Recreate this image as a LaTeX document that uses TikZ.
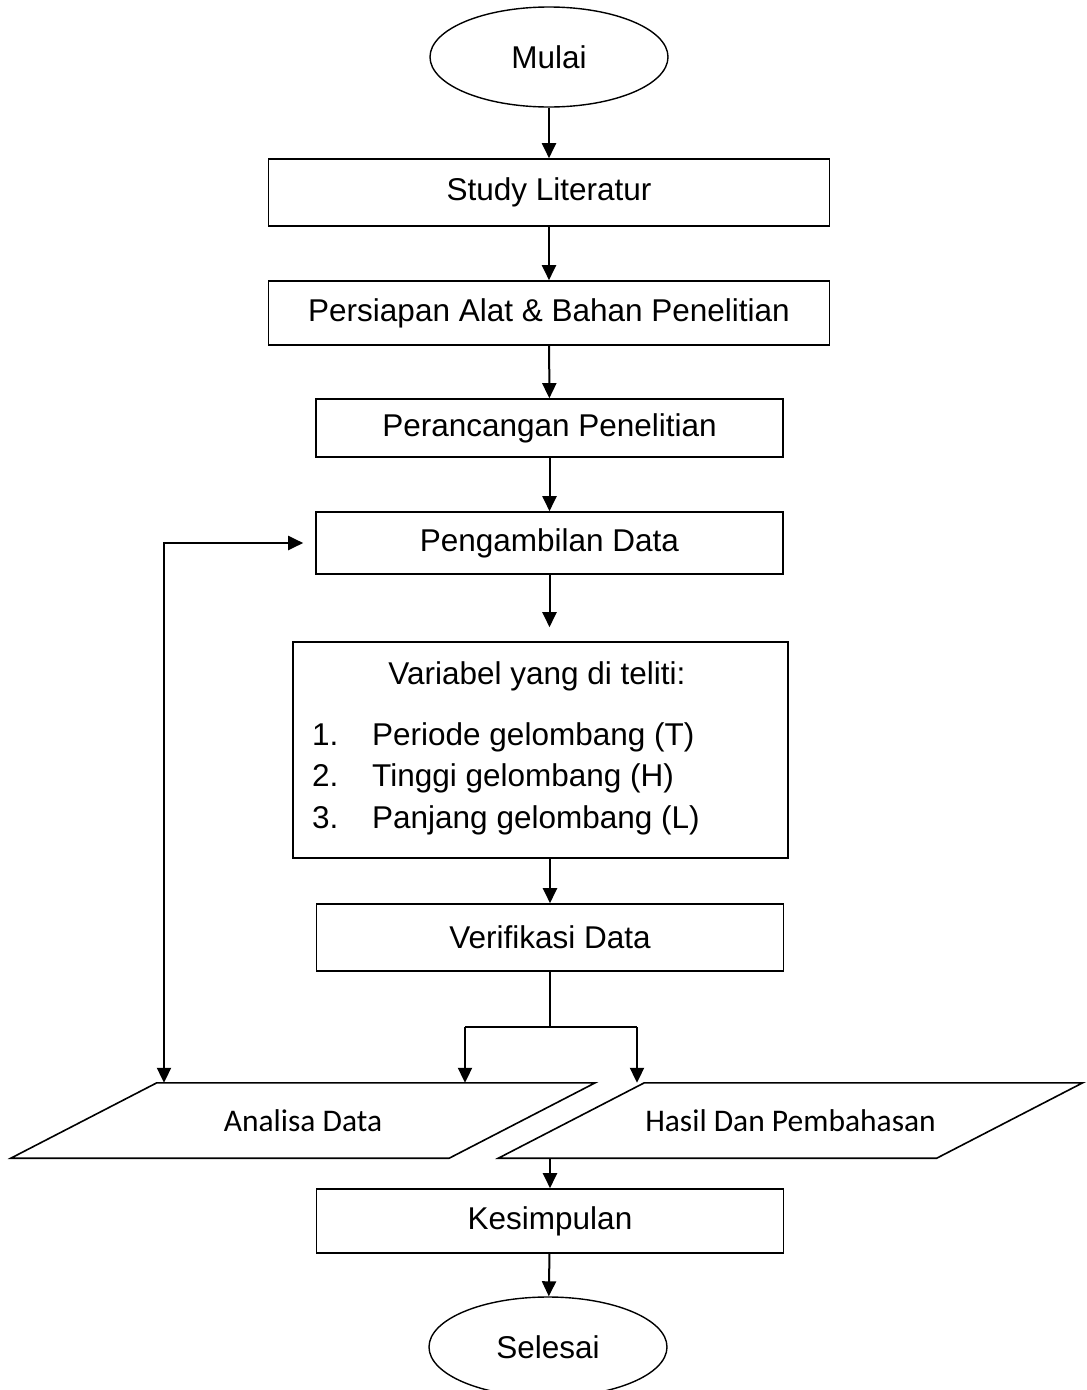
\documentclass[tikz,border=0pt]{standalone}
\usepackage{fontspec}
\setmainfont{Liberation Sans}
\newfontfamily\calibrifont{Carlito}
\usetikzlibrary{shapes.geometric,arrows.meta,positioning}

\tikzset{panah/.tip={Triangle[width=14pt,length=15pt]}}

\begin{document}
\begin{tikzpicture}[x=1pt, y=-1pt, font=\fontsize{31.5}{38}\selectfont,
  box/.style={draw, line width=1.6pt, minimum width=467pt, inner sep=0pt},
  widebox/.style={box, minimum width=561pt},
  term/.style={draw, ellipse, line width=1.4pt, minimum width=238pt, minimum height=100pt, inner sep=0pt},
  io/.style={minimum width=438pt, minimum height=75pt, inner sep=0pt, font=\calibrifont\fontsize{31.5}{38}\selectfont},
  arr/.style={-panah, line width=2pt},
  conn/.style={line width=2pt}]
\useasboundingbox (0,0) rectangle (1087,1390);

% langkah utama
\node[term] (mulai) at (549,57) {Mulai};
\node[widebox, minimum height=67pt] (studi) at (549,192.5) {Study Literatur};
\node[widebox, minimum height=64pt] (persiapan) at (549,313) {Persiapan Alat \& Bahan Penelitian};
\node[box, minimum height=58pt] (perancangan) at (549.5,428) {Perancangan Penelitian};
\node[box, minimum height=62pt] (pengambilan) at (549.5,543) {Pengambilan Data};

% variabel
\node[box, minimum width=495pt, minimum height=216pt] (variabel) at (540.5,750) {};
\node (judul) at (537,676) {Variabel yang di teliti:};
\node[anchor=west, inner sep=0pt] (var1) at (312,737) {\makebox[60pt][l]{1.}Periode gelombang (T)};
\node[anchor=west, inner sep=0pt] (var2) at (312,778) {\makebox[60pt][l]{2.}Tinggi gelombang (H)};
\node[anchor=west, inner sep=0pt] (var3) at (312,820) {\makebox[60pt][l]{3.}Panjang gelombang (L)};

\node[box, minimum height=67pt] (verifikasi) at (550,937.5) {Verifikasi Data};

% data (jajaran genjang)
\node[io] (analisa) at (303,1120.5) {Analisa Data};
\node[io] (hasil) at (790.5,1120.5) {Hasil Dan Pembahasan};
\draw[line width=1.6pt] ([xshift=-73pt]analisa.south west) -- ([xshift=73pt]analisa.north west) -- ([xshift=73pt]analisa.north east) -- ([xshift=-73pt]analisa.south east) -- cycle;
\draw[line width=1.6pt] ([xshift=-73pt]hasil.south west) -- ([xshift=73pt]hasil.north west) -- ([xshift=73pt]hasil.north east) -- ([xshift=-73pt]hasil.south east) -- cycle;

\node[box, minimum height=64pt] (kesimpulan) at (550,1221) {Kesimpulan};
\node[term] (selesai) at (548,1347) {Selesai};

% panah
\draw[arr] (mulai) -- (studi);
\draw[arr] (studi) -- (persiapan);
\draw[arr] (persiapan) -- (perancangan);
\draw[arr] (perancangan) -- (pengambilan);
\draw[arr, shorten >=14pt] (pengambilan.south) -- (pengambilan.south |- variabel.north);
\draw[arr] (verifikasi.north |- variabel.south) -- (verifikasi.north);

% cabang
\coordinate (cabangkiri) at (465,1027);
\coordinate (cabangkanan) at (637,1027);
\draw[conn] (verifikasi.south) -- (verifikasi.south |- cabangkiri);
\draw[conn] (cabangkiri) -- (cabangkanan);
\draw[arr] (cabangkiri) -- (cabangkiri |- analisa.north);
\draw[arr] (cabangkanan) -- (cabangkanan |- hasil.north);

% balik ke pengambilan data
\coordinate (balik) at (164,543);
\draw[conn, panah-panah, shorten >=12pt] (balik |- analisa.north) -- (balik) -- (pengambilan.west);

\draw[arr] (kesimpulan.north |- hasil.south) -- (kesimpulan.north);
\draw[arr] (kesimpulan) -- (selesai);
\end{tikzpicture}
\end{document}
